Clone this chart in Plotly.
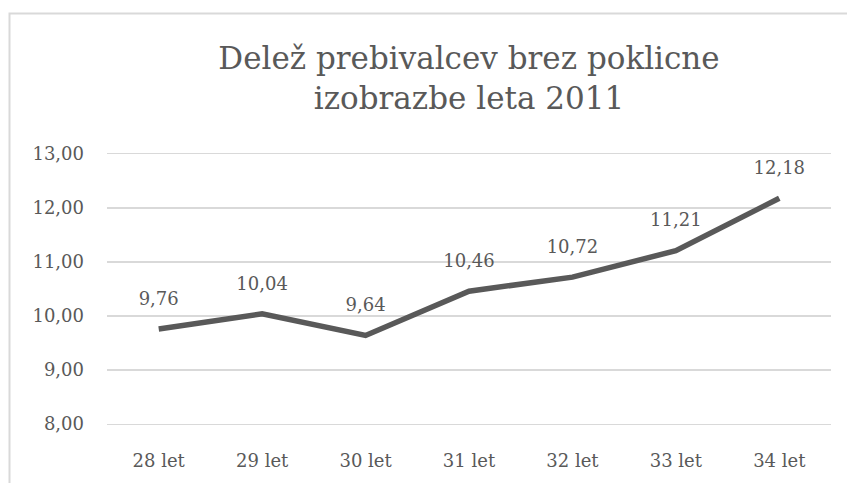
import plotly.graph_objects as go

categories = ["28 let", "29 let", "30 let", "31 let", "32 let", "33 let", "34 let"]
values = [9.76, 10.04, 9.64, 10.46, 10.72, 11.21, 12.18]
tick_vals = [8, 9, 10, 11, 12, 13]
tick_text = ["8,00", "9,00", "10,00", "11,00", "12,00", "13,00"]
labels = [f"{v:.2f}".replace(".", ",") for v in values]

FONT = "DejaVu Serif"
GRAY = "#595959"
GRID = "#d9d9d9"

fig = go.Figure()
fig.add_trace(go.Scatter(
    x=categories, y=values, mode="lines+markers+text",
    line=dict(color=GRAY, width=5.5),
    marker=dict(size=30, color="rgba(0,0,0,0)"),
    text=labels, textposition="top center",
    textfont=dict(family=FONT, size=18, color=GRAY),
    hoverinfo="skip", cliponaxis=False,
))

fig.update_layout(
    width=847, height=483,
    margin=dict(l=107, r=16, t=154, b=57),
    paper_bgcolor="white", plot_bgcolor="white",
    showlegend=False,
    title=dict(
        text="Delež prebivalcev brez poklicne<br>izobrazbe leta 2011",
        x=0.5, xanchor="center", xref="paper",
        y=1 - 69 / 483, yanchor="top",
        font=dict(family=FONT, size=31, color=GRAY),
    ),
    xaxis=dict(
        type="category", range=[-0.5, 6.5],
        showgrid=False, zeroline=False,
        showline=True, mirror=True, linecolor=GRID, linewidth=1.3,
        ticks="",
        tickfont=dict(family=FONT, size=18, color=GRAY),
        ticklabelstandoff=20,
    ),
    yaxis=dict(
        range=[8, 13], tickvals=tick_vals, ticktext=tick_text,
        showgrid=True, gridcolor=GRID, gridwidth=1.3,
        zeroline=False, showline=False, ticks="",
        tickfont=dict(family=FONT, size=18, color=GRAY),
        ticklabelstandoff=22,
    ),
    shapes=[dict(
        type="rect", xref="paper", yref="paper",
        x0=(9.5 - 107) / 724, x1=(860 - 107) / 724,
        y0=(426 - 500) / 272, y1=(426 - 12.5) / 272,
        line=dict(color=GRID, width=2), fillcolor="rgba(0,0,0,0)",
        layer="below",
    )],
)

fig.write_html(
    "out.html",
    config={"displayModeBar": False, "staticPlot": True},
    post_script="document.body.style.margin='0';document.body.style.overflow='hidden';",
)
